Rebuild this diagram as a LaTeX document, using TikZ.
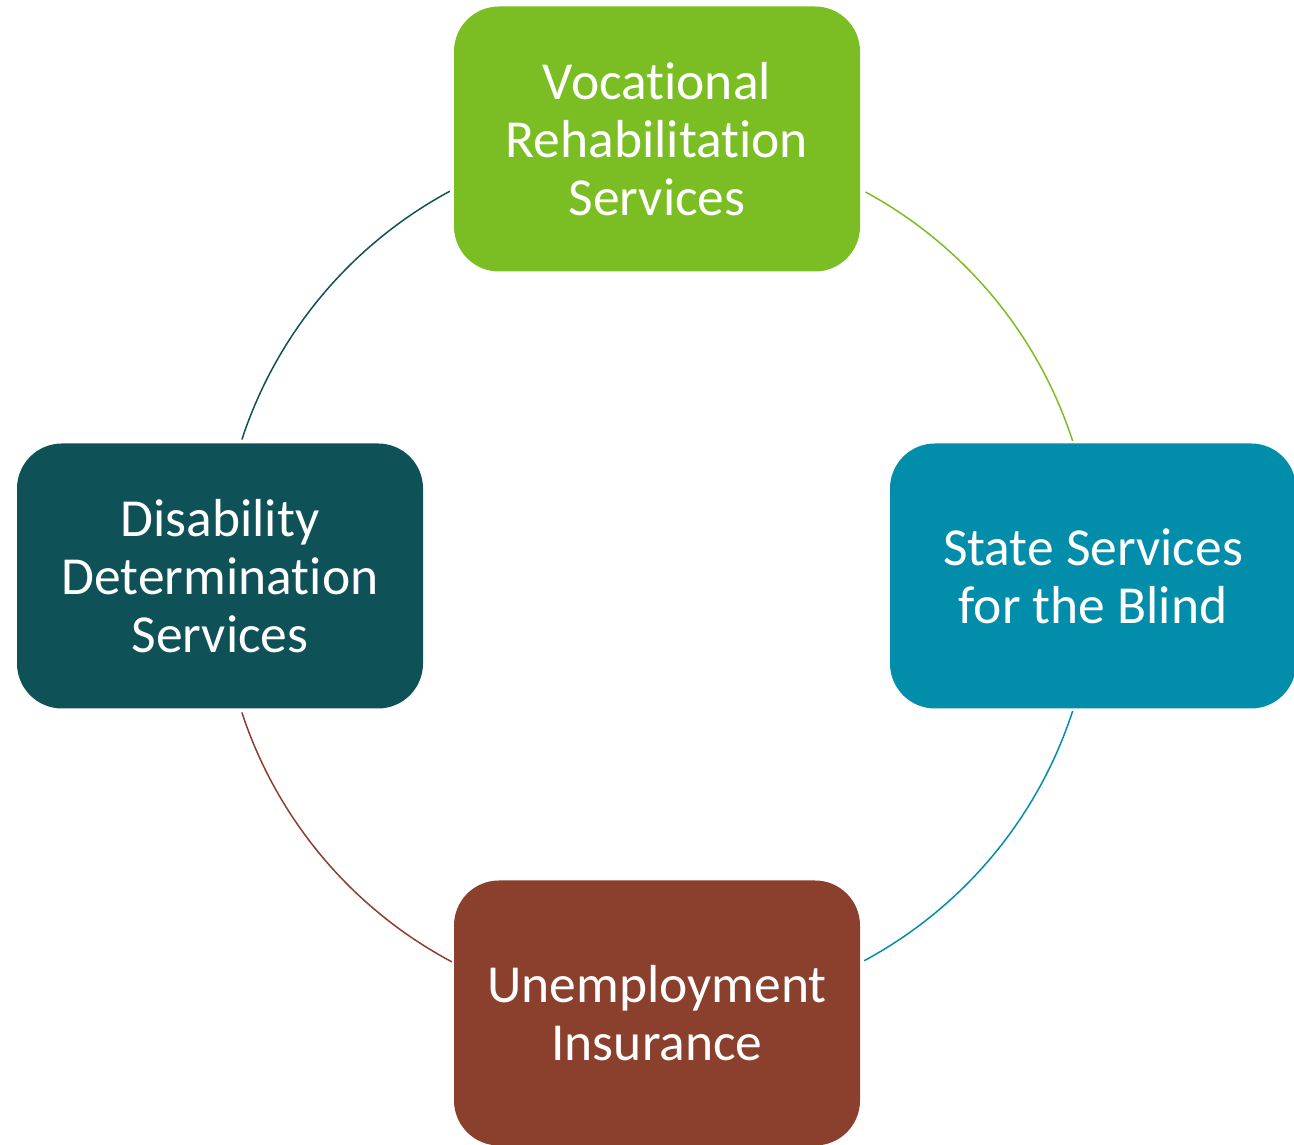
\documentclass[tikz,border=0pt]{standalone}
\usepackage{fontspec}
\setmainfont{Carlito}[RawFeature=-liga]
\usetikzlibrary{calc}
\definecolor{cgreen}{RGB}{123,190,36}
\definecolor{cteal}{RGB}{2,142,170}
\definecolor{cdark}{RGB}{14,82,87}
\definecolor{cbrown}{RGB}{139,63,45}
\begin{document}
\begin{tikzpicture}[x=1pt,y=1pt,
  box/.style={rectangle, rounded corners=45pt, minimum width=406pt, minimum height=265pt,
    text=white, align=center, inner sep=0pt,
    font=\fontsize{53.5}{58}\selectfont},
  ring/.style={line width=1.5pt}]
\useasboundingbox (0,0) rectangle (1294,1145);
\coordinate (c) at (657,569);
\node[box, fill=cgreen] (vr) at (657,1006) {Vocational\\Rehabilitation\\Services};
\node[box, fill=cteal] (sb) at (1093,569) {State Services\\for the Blind};
\node[box, fill=cbrown] (ui) at (657,132) {Unemployment\\Insurance};
\node[box, fill=cdark] (dd) at (220,569) {Disability\\Determination\\Services};
\draw[ring, cgreen] ($(c)+(61.5:437)$) arc[start angle=61.5, end angle=18, radius=437];
\draw[ring, cteal] ($(c)+(-18:437)$) arc[start angle=-18, end angle=-61.7, radius=437];
\draw[ring, cbrown] ($(c)+(-118:437)$) arc[start angle=-118, end angle=-161.8, radius=437];
\draw[ring, cdark] ($(c)+(161.8:437)$) arc[start angle=161.8, end angle=118.3, radius=437];
\end{tikzpicture}
\end{document}
